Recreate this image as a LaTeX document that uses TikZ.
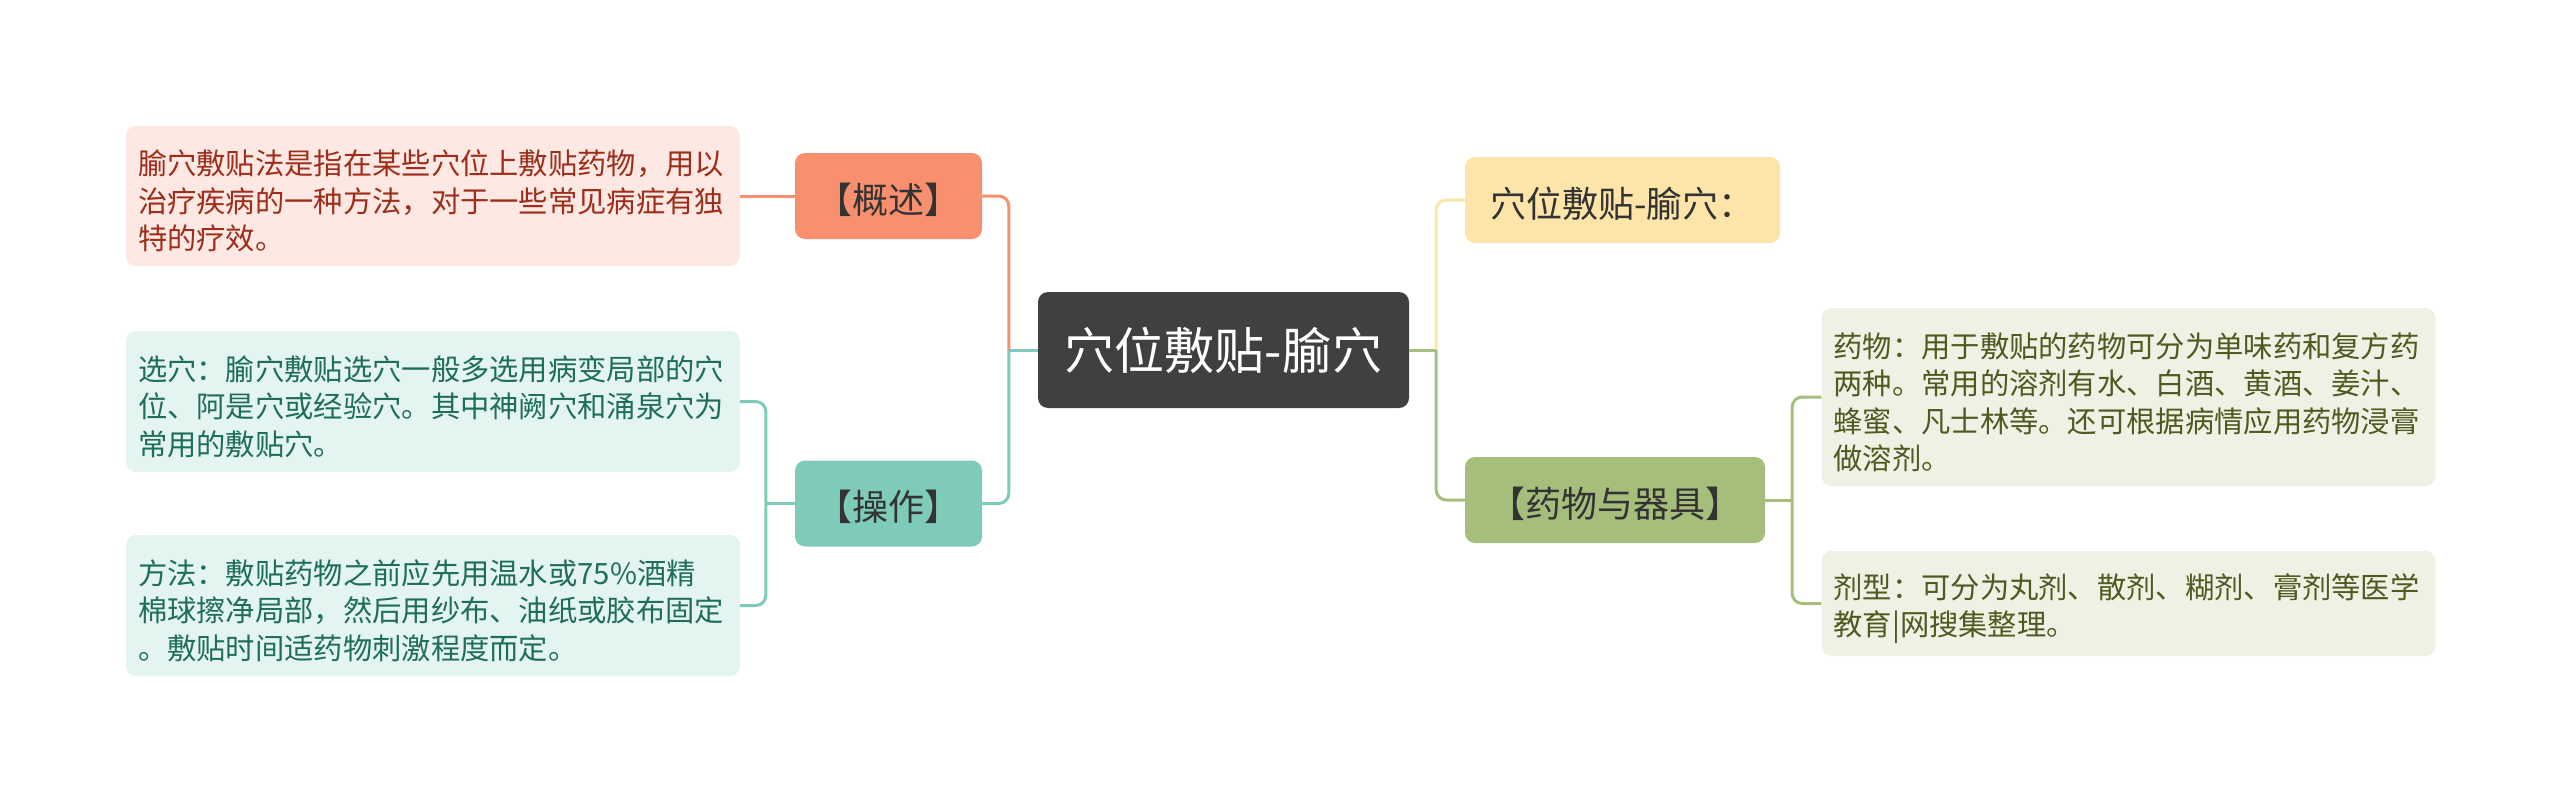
\documentclass[tikz,border=0pt]{standalone}
\usepackage{fontspec}
\setmainfont{Noto Sans CJK SC}
\usetikzlibrary{positioning}
\definecolor{ink}{RGB}{51,51,51}
\definecolor{charcoal}{RGB}{64,64,64}
\definecolor{coral}{RGB}{248,144,112}
\definecolor{coralpale}{RGB}{253,232,227}
\definecolor{coraltext}{RGB}{158,45,25}
\definecolor{mint}{RGB}{126,203,185}
\definecolor{mintpale}{RGB}{228,244,240}
\definecolor{minttext}{RGB}{30,110,90}
\definecolor{sand}{RGB}{253,229,170}
\definecolor{moss}{RGB}{166,190,123}
\definecolor{mosspale}{RGB}{238,241,227}
\definecolor{mosstext}{RGB}{78,90,32}

\begin{document}
\begin{tikzpicture}[
  x=1pt, y=-1pt,
  box/.style={rounded corners=10pt, inner sep=0pt, align=center, text=ink},
  root/.style={box, fill=charcoal, text=white, minimum width=371pt, minimum height=116pt,
               font=\fontsize{50}{60}\selectfont},
  topic/.style={box, minimum height=86pt, font=\fontsize{36}{44}\selectfont,
                execute at begin node={\rule{0pt}{38pt}}},
  note/.style={box, minimum width=614pt, text width=590pt, align=left,
               font=\fontsize{29.3}{37.5}\selectfont,
               execute at begin node={\rule{0pt}{35pt}}},
  ln/.style={line width=3pt, rounded corners=10pt},
]
\useasboundingbox (0,0) rectangle (2560,803);

\node[root] (root) at (1223.5,350) {穴位敷贴-腧穴};

\node[topic, fill=coral, minimum width=187pt] (gaishu) at (888.5,196) {【概述】};
\node[topic, fill=mint, minimum width=187pt] (caozuo) at (888.5,503.5) {【操作】};
\node[topic, fill=sand, minimum width=315pt] (xuewei) at (1622.5,200) {穴位敷贴-腧穴：};
\node[topic, fill=moss, minimum width=300pt] (qiju) at (1615,500) {【药物与器具】};

\node[note, fill=coralpale, text=coraltext, minimum height=140pt] (gaishu-note) at (433,196)
  {腧穴敷贴法是指在某些穴位上敷贴药物，用以\\治疗疾病的一种方法，对于一些常见病症有独\\特的疗效。};
\node[note, fill=mintpale, text=minttext, minimum height=141pt] (xuan-note) at (433,401.5)
  {选穴：腧穴敷贴选穴一般多选用病变局部的穴\\位、阿是穴或经验穴。其中神阙穴和涌泉穴为\\常用的敷贴穴。};
\node[note, fill=mintpale, text=minttext, minimum height=141pt] (fangfa-note) at (433,605.5)
  {方法：敷贴药物之前应先用温水或75\%酒精\\棉球擦净局部，然后用纱布、油纸或胶布固定\\。敷贴时间适药物刺激程度而定。};
\node[note, fill=mosspale, text=mosstext, minimum height=178pt] (yaowu-note) at (2128.5,397)
  {药物：用于敷贴的药物可分为单味药和复方药\\两种。常用的溶剂有水、白酒、黄酒、姜汁、\\蜂蜜、凡士林等。还可根据病情应用药物浸膏\\做溶剂。};
\node[note, fill=mosspale, text=mosstext, minimum height=105pt] (jixing-note) at (2128.5,603.5)
  {剂型：可分为丸剂、散剂、糊剂、膏剂等医学\\教育|网搜集整理。};

\coordinate[left=29pt of root] (lhub);
\coordinate[right=27pt of root] (rhub);
\coordinate[left=29pt of caozuo] (chub);
\coordinate[right=27pt of qiju] (qhub);

\draw[ln, draw=coral] (lhub) |- (gaishu.east);
\draw[ln, draw=mint] (lhub) |- (caozuo.east);
\draw[ln, draw=mint] (root.west) -- (lhub);
\draw[ln, draw=sand] (rhub) |- (xuewei.west);
\draw[ln, draw=moss] (rhub) |- (qiju.west);
\draw[ln, draw=moss] (root.east) -- (rhub);

\draw[ln, draw=coral] (gaishu.west) -- (gaishu-note.east);
\draw[ln, draw=mint] (chub) |- (xuan-note.east);
\draw[ln, draw=mint] (chub) |- (fangfa-note.east);
\draw[ln, draw=mint] (caozuo.west) -- (chub);
\draw[ln, draw=moss] (qhub) |- (yaowu-note.west);
\draw[ln, draw=moss] (qhub) |- (jixing-note.west);
\draw[ln, draw=moss] (qiju.east) -- (qhub);
\end{tikzpicture}
\end{document}
